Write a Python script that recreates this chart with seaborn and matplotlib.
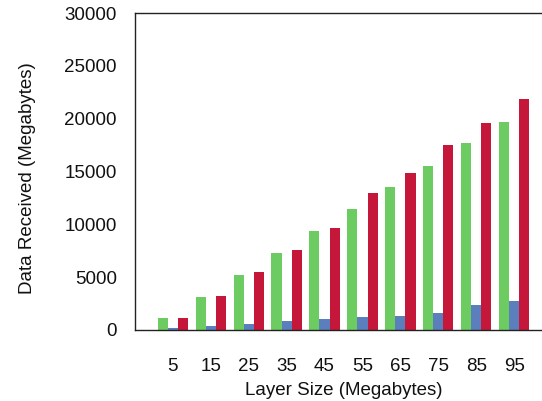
import numpy as np
import pandas as pd
import matplotlib
matplotlib.use("Agg")
import matplotlib.pyplot as plt
import seaborn as sns

# values (Megabytes)
layer_sizes = ["5", "15", "25", "35", "45", "55", "65", "75", "85", "95"]
series_a = [1100, 3150, 5200, 7300, 9400, 11450, 13500, 15550, 17650, 19700]   # green
series_b = [150, 350, 600, 850, 1000, 1200, 1350, 1650, 2400, 2700]             # blue
series_c = [1100, 3200, 5450, 7550, 9650, 12950, 14850, 17550, 19550, 21900]  # red
series_names = ["A", "B", "C"]
colors = {"A": "#6ccc62", "B": "#5b7fbd", "C": "#c4173a"}

df = pd.DataFrame({
    "size": layer_sizes * 3,
    "value": series_a + series_b + series_c,
    "series": np.repeat(series_names, len(layer_sizes)),
})

sns.set_style("white")
plt.rcParams["font.family"] = ["Liberation Sans", "DejaVu Sans"]

fig = plt.figure(figsize=(5.42, 4.01), dpi=100)
# axes runs past the right edge: the reference is cropped there
ax = fig.add_axes([135 / 542, 71 / 401, 417 / 542, 317 / 401])

sns.barplot(data=df, x="size", y="value", hue="series", order=layer_sizes,
            hue_order=series_names, palette=colors, width=0.8, saturation=1,
            linewidth=0, edgecolor="none", legend=False, ax=ax)

ax.set_xlim(-1, 10)
ax.set_ylim(0, 30000)
ax.set_yticks(range(0, 30001, 5000))

for side in ["left", "bottom", "top", "right"]:
    ax.spines[side].set_color("#222222")
    ax.spines[side].set_linewidth(1.0)

ax.tick_params(axis="both", direction="out", length=3.5, width=1.0,
               colors="#222222", labelsize=13.5, labelcolor="#111111")
ax.tick_params(axis="x", pad=17)
ax.tick_params(axis="y", pad=9.5)
ax.tick_params(top=False, right=False)

ax.set_xlabel("Layer Size (Megabytes)", fontsize=13.5, color="#111111", labelpad=5)
ax.set_ylabel("Data Received (Megabytes)", fontsize=13.5, color="#111111")
ax.yaxis.set_label_coords(-0.237, 0.48)

fig.savefig("out.png", dpi=100)
